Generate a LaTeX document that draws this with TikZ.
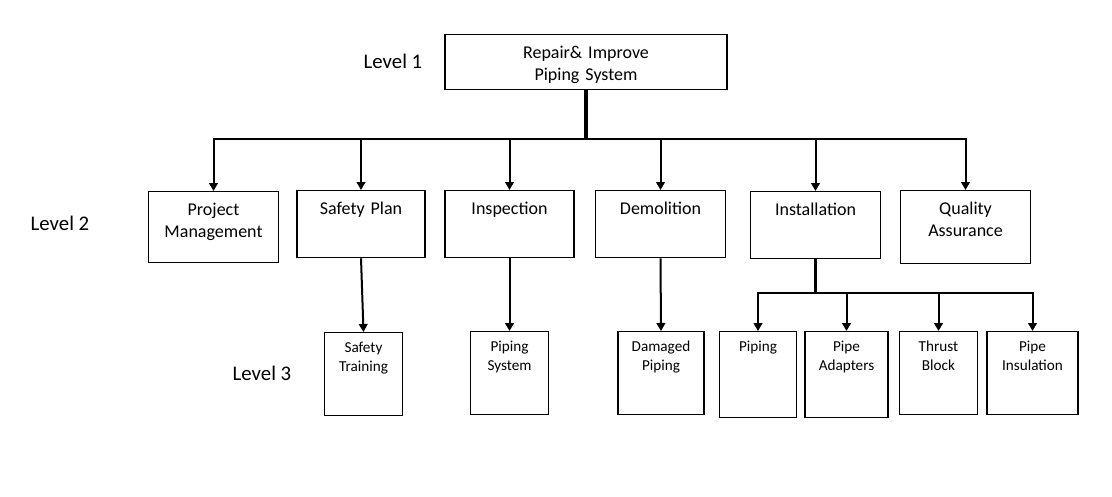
\documentclass[tikz,border=0pt]{standalone}
\usepackage{fontspec}
\setmainfont{Carlito}
\usetikzlibrary{arrows.meta}
\tikzset{
  box/.style={draw, line width=0.9pt, inner xsep=0pt, inner ysep=0pt, align=center, anchor=north},
  lvone/.style={box, text width=211.5pt, text height=17.6pt, text depth=23.6pt, font=\fontsize{13.5pt}{17pt}\selectfont},
  lvtwo/.style={box, text width=98pt, text height=17.6pt, text depth=32.7pt, font=\fontsize{13.5pt}{17pt}\selectfont},
  lvthree/.style={box, text width=58pt, text height=15pt, text depth=47pt, font=\fontsize{11.4pt}{14pt}\selectfont},
  lvlabel/.style={inner sep=0pt, font=\fontsize{15.6pt}{18pt}\selectfont},
  link/.style={line width=1.5pt},
  trunk/.style={line width=2.3pt},
  arr/.style={line width=1.5pt, -{Triangle[length=6pt,width=6.5pt]}}
}
\begin{document}
\begin{tikzpicture}[x=0.75pt,y=-0.75pt]
\useasboundingbox[fill=white] (0,0) rectangle (1112,496);
\node[lvlabel] (lbla) at (393,61) {Level 1};
\node[lvlabel] (lblb) at (60,223) {Level 2};
\node[lvlabel] (lblc) at (262,373) {Level 3};
\node[lvone] (top) at (586,34) {Repair\& Improve\\Piping System};
\coordinate (busa) at (586,139);
\node[lvtwo, text depth=35.7pt] (pm) at (213.5,191) {Project\\Management};
\node[lvtwo, text width=96pt] (sp) at (361,190) {Safety Plan};
\node[lvtwo, text width=96.75pt] (insp) at (509.5,190) {Inspection};
\node[lvtwo] (demo) at (660.5,190) {Demolition};
\node[lvtwo] (inst) at (815.5,191) {Installation};
\node[lvtwo, text depth=37.2pt] (qa) at (965.5,190) {Quality\\Assurance};
\draw[trunk] (top.south) -- (busa);
\draw[arr] (busa) -| (pm.north);
\draw[arr] (busa) -| (sp.north);
\draw[arr] (busa) -| (insp.north);
\draw[arr] (busa) -| (demo.north);
\draw[arr] (busa) -| (inst.north);
\draw[arr] (busa) -| (qa.north);
\node[lvthree] (st) at (363.5,332) {Safety\\Training};
\draw[arr] (sp.south) -- (st.north);
\node[lvthree] (ps) at (509.5,331) {Piping\\System};
\draw[arr] (insp.south) -- (ps.north);
\node[lvthree, text width=64.5pt] (dp) at (661,331) {Damaged\\Piping};
\draw[arr] (demo.south) -- (dp.north);
\coordinate (busb) at (815.5,293);
\node[lvthree, text depth=49.5pt] (pp) at (758,331) {Piping};
\node[lvthree, text width=62.25pt, text depth=49.5pt] (pa) at (846.5,331) {Pipe\\Adapters};
\node[lvthree] (tb) at (938.5,331) {Thrust\\Block};
\node[lvthree, text width=68.25pt] (pi) at (1032.5,331) {Pipe\\Insulation};
\draw[trunk] (inst.south) -- (busb);
\draw[arr] (busb) -| (pp.north);
\draw[arr] (busb) -| (pa.north);
\draw[arr] (busb) -| (tb.north);
\draw[arr] (busb) -| (pi.north);
\end{tikzpicture}
\end{document}
